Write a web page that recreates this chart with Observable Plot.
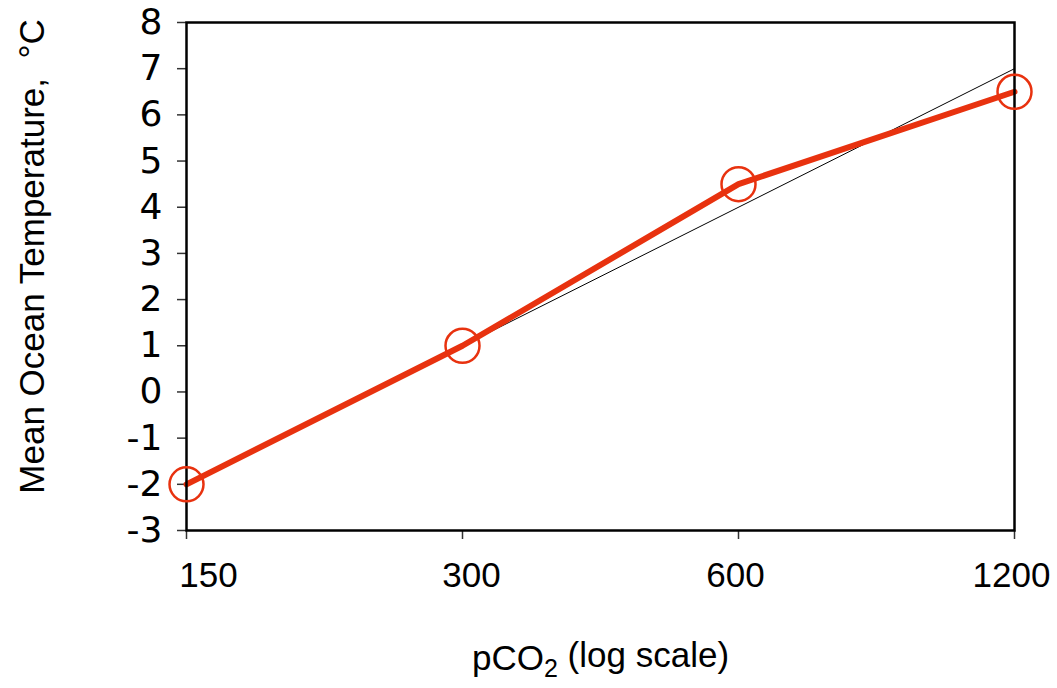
<!DOCTYPE html>
<html><head><meta charset="utf-8">
<script src="https://cdn.jsdelivr.net/npm/d3@7"></script>
<script src="https://cdn.jsdelivr.net/npm/@observablehq/plot@0.6"></script>
<style>body{margin:0;background:#fff}</style>
</head><body><div id="chart"></div>
<script>
const pco2 = [150, 300, 600, 1200];
const temperature = [-2, 1, 4.5, 6.5];
const refPco2 = [150, 1200];
const refTemperature = [-2, 7];
const xTicks = [150, 300, 600, 1200];
const yTicks = [-3, -2, -1, 0, 1, 2, 3, 4, 5, 6, 7, 8];
const xLabelParts = ["pCO", "2", " (log scale)"];
const yLabel = "Mean Ocean Temperature,  °C";

const data = pco2.map((x, i) => ({x, y: temperature[i]}));
const ref = refPco2.map((x, i) => ({x, y: refTemperature[i]}));
const red = "#e8320f";
const xTickText = (filter, dx) => Plot.text(xTicks.filter(filter), {
  x: d => d, frameAnchor: "bottom", lineAnchor: "top", dy: 32, dx,
  text: d => String(d), fontSize: 35, fill: "black"
});

const chart = Plot.plot({
  width: 1057, height: 688,
  marginLeft: 186, marginRight: 43, marginTop: 22, marginBottom: 158,
  style: {fontFamily: "'Liberation Sans', Arial, sans-serif", fontSize: "35px", color: "black", background: "white", overflow: "visible"},
  x: {type: "log", domain: [150, 1200]},
  y: {domain: [-3, 8]},
  marks: [
    Plot.axisX({ticks: xTicks, tickFormat: null, text: null, tickSize: 9, label: null, stroke: "#333", strokeWidth: 1.5}),
    Plot.axisY({ticks: yTicks, tickFormat: d => String(d), tickSize: 9, tickPadding: 15, label: null, stroke: "#333", strokeWidth: 1.5, fontFamily: "'DejaVu Sans', Verdana, sans-serif", fontSize: 36}),
    xTickText(d => d === 150, 22),
    xTickText(d => d === 300, 9),
    xTickText(d => d >= 600, -3),
    Plot.line(ref, {x: "x", y: "y", stroke: "black", strokeWidth: 1}),
    Plot.line(data, {x: "x", y: "y", stroke: red, strokeWidth: 6}),
    Plot.frame({stroke: "black", strokeWidth: 2.5}),
    Plot.dot(data, {x: "x", y: "y", r: 17, stroke: red, strokeWidth: 2.5, fill: "none"}),
    Plot.text([xLabelParts.join("")], {frameAnchor: "bottom", textAnchor: "middle", lineAnchor: "middle", dy: 128, text: d => d, fontSize: 35, className: "xlabel"}),
    Plot.text([yLabel], {frameAnchor: "left", textAnchor: "middle", lineAnchor: "middle", dx: -154, dy: -20, rotate: -90, text: d => d, fontSize: 35})
  ]
});
// render the subscript of pCO2 as a real tspan
d3.select(chart).selectAll("g.xlabel text").each(function() {
  const t = d3.select(this);
  t.text(null);
  t.append("tspan").text(xLabelParts[0]);
  t.append("tspan").attr("font-size", 25).attr("dy", "0.3em").text(xLabelParts[1]);
  t.append("tspan").attr("dy", "-0.3em").text(xLabelParts[2]);
});
document.getElementById("chart").append(chart);
</script>
</body></html>
